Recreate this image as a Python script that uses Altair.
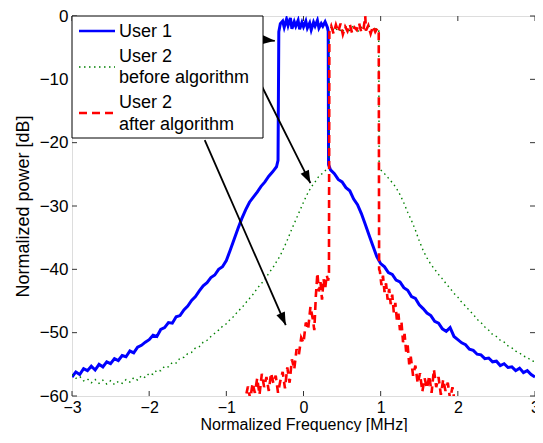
import math
import altair as alt
import pandas as pd

# ---------------- data ----------------
x_ticks = [-3, -2, -1, 0, 1, 2, 3]
y_ticks = [-60, -50, -40, -30, -20, -10, 0]

# User 1 (blue, solid)
u1_f = [-3.00, -2.95, -2.90, -2.85, -2.80, -2.75, -2.70, -2.65, -2.60, -2.55,
        -2.50, -2.45, -2.40, -2.35, -2.30, -2.25, -2.20, -2.15, -2.10, -2.05,
        -2.00, -1.95, -1.90, -1.85, -1.80, -1.75, -1.70, -1.65, -1.60, -1.55,
        -1.50, -1.45, -1.40, -1.35, -1.30, -1.25, -1.20, -1.15, -1.10, -1.05,
        -1.00, -0.95, -0.90, -0.85, -0.80, -0.75, -0.70, -0.65, -0.60, -0.55,
        -0.50, -0.45, -0.40, -0.35, -0.33, -0.32,
        -0.30, -0.27, -0.25, -0.22, -0.20, -0.17, -0.15, -0.12, -0.10, -0.07,
        -0.05, -0.02, 0.00, 0.03, 0.05, 0.08, 0.10, 0.13, 0.15, 0.18,
        0.20, 0.23, 0.25, 0.28, 0.31, 0.32, 0.325,
        0.35, 0.40, 0.45, 0.50, 0.55, 0.60, 0.65, 0.70, 0.75, 0.80,
        0.85, 0.90, 0.95, 1.00, 1.05, 1.10, 1.15, 1.20, 1.25, 1.30,
        1.35, 1.40, 1.45, 1.50, 1.55, 1.60, 1.65, 1.70, 1.75, 1.80,
        1.85, 1.90, 1.95, 2.00, 2.05, 2.10, 2.15, 2.20, 2.25, 2.30,
        2.35, 2.40, 2.45, 2.50, 2.55, 2.60, 2.65, 2.70, 2.75, 2.80,
        2.85, 2.90, 2.95, 3.00]
u1_db = [-57.0, -56.2, -56.6, -55.7, -56.0, -55.3, -55.9, -55.0, -55.4, -54.6,
         -54.9, -54.1, -54.4, -53.6, -53.8, -52.9, -53.2, -52.3, -52.0, -51.5,
         -51.1, -50.4, -50.6, -49.5, -49.2, -48.4, -48.5, -47.5, -47.3, -46.4,
         -45.8, -44.9, -44.3, -43.4, -42.6, -42.1, -41.3, -40.9, -40.0, -39.6,
         -38.6, -37.0, -35.3, -33.6, -32.0, -30.6, -29.4, -28.6, -27.8, -26.9,
         -26.2, -25.3, -24.6, -23.8, -22.8, -2.5,
         -1.2, -0.8, -1.8, -0.5, -1.5, -0.3, -2.0, -0.9, -1.6, -0.7,
         -2.1, -1.0, -1.7, -0.8, -1.9, -1.1, -2.2, -1.0, -1.6, -0.7,
         -1.9, -1.2, -1.6, -0.9, -1.8, -2.4, -23.5,
         -24.3, -24.9, -25.8, -26.2, -27.1, -27.6, -28.9, -29.8, -31.2, -32.9,
         -34.6, -36.3, -38.0, -39.1, -39.6, -40.5, -40.8, -41.7, -42.0, -42.9,
         -43.3, -44.3, -44.6, -45.6, -46.2, -46.9, -47.3, -48.2, -48.5, -49.4,
         -49.8, -49.2, -50.6, -51.1, -51.6, -51.9, -52.6, -52.8, -53.4, -53.5,
         -54.1, -54.0, -54.6, -54.5, -55.2, -54.9, -55.5, -55.4, -56.0, -55.6,
         -56.3, -56.0, -56.6, -57.0]

# User 2 before algorithm (green, dotted)
u2b_f = [-3.00, -2.95, -2.90, -2.85, -2.80, -2.75, -2.70, -2.65, -2.60, -2.55,
         -2.50, -2.45, -2.40, -2.35, -2.30, -2.25, -2.20, -2.15, -2.10, -2.05,
         -2.00, -1.95, -1.90, -1.85, -1.80, -1.75, -1.70, -1.65, -1.60, -1.55,
         -1.50, -1.45, -1.40, -1.35, -1.30, -1.25, -1.20, -1.15, -1.10, -1.05,
         -1.00, -0.95, -0.90, -0.85, -0.80, -0.75, -0.70, -0.65, -0.60, -0.55,
         -0.50, -0.45, -0.40, -0.35, -0.30, -0.25, -0.20, -0.15, -0.10, -0.05,
         0.00, 0.05, 0.10, 0.15, 0.20, 0.25, 0.30, 0.33, 0.335,
         0.36, 0.40, 0.45, 0.50, 0.55, 0.60, 0.65, 0.70, 0.75, 0.80,
         0.85, 0.90, 0.95, 0.975, 0.98,
         1.00, 1.05, 1.10, 1.15, 1.20, 1.25, 1.30, 1.35, 1.40, 1.45,
         1.50, 1.55, 1.60, 1.65, 1.70, 1.75, 1.80, 1.85, 1.90, 1.95,
         2.00, 2.05, 2.10, 2.15, 2.20, 2.25, 2.30, 2.35, 2.40, 2.45,
         2.50, 2.55, 2.60, 2.65, 2.70, 2.75, 2.80, 2.85, 2.90, 2.95, 3.00]
u2b_db = [-56.6, -57.2, -56.9, -57.6, -57.3, -57.9, -57.4, -58.0, -57.5, -58.1,
          -57.6, -58.2, -57.7, -58.0, -57.4, -57.8, -57.1, -57.5, -56.8, -57.1,
          -56.4, -56.6, -55.9, -56.0, -55.3, -55.4, -54.7, -54.8, -54.0, -53.9,
          -53.3, -53.1, -52.4, -52.2, -51.5, -51.2, -50.6, -50.1, -49.6, -49.0,
          -48.6, -47.9, -47.4, -46.6, -46.1, -45.3, -44.6, -43.9, -43.0, -42.3,
          -41.6, -40.6, -39.8, -38.8, -37.8, -36.5, -35.1, -33.6, -32.2, -30.8,
          -29.4, -28.1, -27.0, -26.2, -25.3, -24.8, -24.2, -23.8, -2.5,
          -1.6, -2.4, -1.9, -2.6, -1.7, -2.3, -1.5, -2.5, -1.8, -2.2,
          -1.6, -2.4, -1.9, -2.3, -23.8,
          -24.3, -24.9, -25.6, -26.3, -27.1, -28.2, -29.5, -31.0, -32.3, -33.8,
          -35.5, -37.0, -38.2, -39.2, -40.0, -40.8, -41.5, -42.3, -43.0, -43.8,
          -44.4, -45.2, -45.8, -46.5, -47.1, -47.9, -48.4, -49.1, -49.6, -50.3,
          -50.6, -51.2, -51.5, -52.1, -52.4, -52.9, -53.2, -53.7, -53.9, -54.4, -54.6]

# User 2 after algorithm (red, dashed)
u2a_f = [-0.80, -0.75, -0.72, -0.69, -0.66, -0.63, -0.60, -0.57, -0.54, -0.51,
         -0.48, -0.45, -0.42, -0.39, -0.36, -0.33, -0.30, -0.27, -0.24, -0.21,
         -0.18, -0.15, -0.12, -0.09, -0.06, -0.03, 0.00, 0.03, 0.06, 0.09,
         0.12, 0.14, 0.16, 0.18, 0.20, 0.22, 0.24, 0.26, 0.28, 0.30,
         0.32, 0.33, 0.335,
         0.36, 0.39, 0.42, 0.45, 0.48, 0.51, 0.54, 0.57, 0.60, 0.63,
         0.66, 0.69, 0.72, 0.75, 0.78, 0.80, 0.81, 0.84, 0.87, 0.90,
         0.93, 0.96, 0.975, 0.98,
         0.99, 1.01, 1.03, 1.05, 1.07, 1.09, 1.11, 1.13, 1.15, 1.17,
         1.19, 1.21, 1.23, 1.25, 1.27, 1.29, 1.31, 1.33, 1.35, 1.37,
         1.39, 1.42, 1.45, 1.48, 1.51, 1.54, 1.57, 1.60, 1.63, 1.66,
         1.69, 1.72, 1.75, 1.78, 1.81, 1.84, 1.87, 1.90, 1.93, 1.96, 2.00]
u2a_db = [-61.5, -60.2, -58.5, -60.5, -58.0, -59.5, -57.2, -59.8, -56.5, -58.6,
          -57.0, -59.2, -56.4, -58.0, -56.8, -59.5, -57.6, -56.2, -58.8, -55.5,
          -57.9, -54.2, -55.8, -52.6, -53.5, -50.8, -51.6, -48.4, -49.5, -45.9,
          -47.8, -49.6, -44.2, -40.6, -43.5, -42.0, -44.8, -41.5, -43.2, -40.9,
          -41.8, -40.5, -2.6,
          -1.6, -2.8, -1.4, -2.5, -1.2, -2.9, -1.7, -2.4, -1.3, -2.7,
          -1.8, -2.2, -1.1, -2.6, -1.9, 0.0, -2.3, -1.5, -2.8, -1.6,
          -2.5, -1.9, -2.6, -40.0,
          -40.3, -42.5, -41.0, -43.6, -42.2, -44.8, -43.1, -45.5, -44.0, -46.8,
          -45.3, -48.0, -47.0, -49.6, -48.4, -51.5, -50.2, -53.0, -52.0, -55.0,
          -53.8, -56.8, -55.2, -58.0, -56.4, -59.3, -57.2, -58.8, -56.8, -59.5,
          -55.8, -58.6, -57.0, -59.8, -57.4, -59.2, -57.9, -60.5, -58.6, -61.0, -62.0]

# annotation arrows (start -> tip), in data coordinates
arrow_x0 = [-1.474, -0.564, -1.28]
arrow_y0 = [-2.67, -10.5, -19.6]
arrow_x1 = [-0.372, 0.09, -0.23]
arrow_y1 = [-3.92, -26.4, -48.8]

legend_labels = ["User 1", "User 2", "before algorithm", "User 2", "after algorithm"]

# ---------------- chart ----------------
W, H = 463, 380
FONT = "Liberation Sans"
px_per_x = W / 6.0
px_per_y = H / 60.0

x_scale = alt.Scale(domain=[-3, 3], nice=False, zero=False)
y_scale = alt.Scale(domain=[-60, 0], nice=False, zero=False)

x_axis = alt.Axis(values=x_ticks, format="d", ticks=False, tickSize=0, domain=False,
                  grid=False, labelPadding=3, labelFontSize=16, labelColor="black",
                  labelFont=FONT, title="Normalized Frequency [MHz]", titleFontSize=16,
                  titleFont=FONT, titleFontWeight="normal", titleColor="black",
                  titleBaseline="alphabetic", titleY=33, labelFlush=False)
y_axis = alt.Axis(values=y_ticks, format="d", ticks=False, tickSize=0, domain=False,
                  grid=False, labelPadding=4, labelFontSize=17, labelColor="black",
                  labelFont=FONT, title="Normalized power [dB]", titleFontSize=18,
                  titleFont=FONT, titleFontWeight="normal", titleColor="black",
                  titlePadding=7, labelFlush=False)


def series_df(f, db):
    return pd.DataFrame({"f": f, "db": db, "i": list(range(len(f)))})


def line_layer(f, db, **mark):
    return alt.Chart(series_df(f, db)).mark_line(clip=True, **mark).encode(
        x=alt.X("f:Q", scale=x_scale, axis=x_axis),
        y=alt.Y("db:Q", scale=y_scale, axis=y_axis),
        order="i:Q",
    )


blue = line_layer(u1_f, u1_db, color="#0000FF", strokeWidth=3)
green = line_layer(u2b_f, u2b_db, color="#008000", strokeWidth=1.4, strokeDash=[1.5, 3.5])
red = line_layer(u2a_f, u2a_db, color="#FF0000", strokeWidth=2.6, strokeDash=[8, 5])

# ticks on all four sides (inward)
tick_x_df = pd.DataFrame({"t": x_ticks})
tick_y_df = pd.DataFrame({"t": y_ticks})
tx = alt.X("t:Q", scale=x_scale, axis=x_axis)
ty = alt.Y("t:Q", scale=y_scale, axis=y_axis)
ticks = [
    alt.Chart(tick_x_df).mark_rule(color="#333333", strokeWidth=1).encode(
        x=tx, y=alt.value(0), y2=alt.value(5)),
    alt.Chart(tick_x_df).mark_rule(color="#333333", strokeWidth=1).encode(
        x=tx, y=alt.value(H), y2=alt.value(H - 5)),
    alt.Chart(tick_y_df).mark_rule(color="#333333", strokeWidth=1).encode(
        y=ty, x=alt.value(0), x2=alt.value(5)),
    alt.Chart(tick_y_df).mark_rule(color="#333333", strokeWidth=1).encode(
        y=ty, x=alt.value(W), x2=alt.value(W - 5)),
]

# arrows
angles = []
for a, b, c, d in zip(arrow_x0, arrow_y0, arrow_x1, arrow_y1):
    dx = (c - a) * px_per_x
    dy = -(d - b) * px_per_y
    ang = math.degrees(math.atan2(dx, -dy)) % 360
    angles.append(ang)
arrow_df = pd.DataFrame({"x0": arrow_x0, "y0": arrow_y0, "x1": arrow_x1,
                         "y1": arrow_y1, "ang": angles})
arrow_lines = alt.Chart(arrow_df).mark_rule(color="black", strokeWidth=1.8).encode(
    x=alt.X("x0:Q", scale=x_scale, axis=x_axis),
    y=alt.Y("y0:Q", scale=y_scale, axis=y_axis),
    x2="x1:Q", y2="y1:Q",
)
arrow_heads = alt.Chart(arrow_df).mark_point(
    shape="M0,0L-0.36,1L0.36,1Z", filled=True, color="black", opacity=1,
    size=650, strokeWidth=0,
).encode(
    x=alt.X("x1:Q", scale=x_scale, axis=x_axis),
    y=alt.Y("y1:Q", scale=y_scale, axis=y_axis),
    angle=alt.Angle("ang:Q", scale=None),
)

# legend (drawn inside the plot, upper-left corner)
one = alt.Data(values=[{}])
legend = [
    alt.Chart(one).mark_rect(fill="white", stroke="black", strokeWidth=1).encode(
        x=alt.value(0), x2=alt.value(191), y=alt.value(0), y2=alt.value(122)),
    alt.Chart(one).mark_rule(color="#0000FF", strokeWidth=2.6).encode(
        x=alt.value(7), x2=alt.value(43), y=alt.value(15)),
    alt.Chart(one).mark_rule(color="#008000", strokeWidth=1.4, strokeDash=[1.5, 3.5]).encode(
        x=alt.value(7), x2=alt.value(43), y=alt.value(51)),
    alt.Chart(one).mark_rule(color="#FF0000", strokeWidth=2.6, strokeDash=[8, 5]).encode(
        x=alt.value(7), x2=alt.value(43), y=alt.value(97)),
]
for lab, yy in zip(legend_labels, [16, 41, 62, 87, 109]):
    legend.append(
        alt.Chart(one).mark_text(text=lab, align="left", baseline="middle",
                                 fontSize=18, font=FONT, color="black").encode(
            x=alt.value(47), y=alt.value(yy)))

chart = alt.layer(
    blue, green, red, *ticks, arrow_lines, arrow_heads, *legend
).properties(
    width=W, height=H,
    autosize=alt.AutoSizeParams(type="none"),
    padding={"left": 64, "top": 8, "right": 0, "bottom": 36},
).configure_view(
    stroke="black", strokeWidth=1
).configure(
    font=FONT, background="white"
)

chart.save("out.html", embed_options={"renderer": "svg", "actions": False})
